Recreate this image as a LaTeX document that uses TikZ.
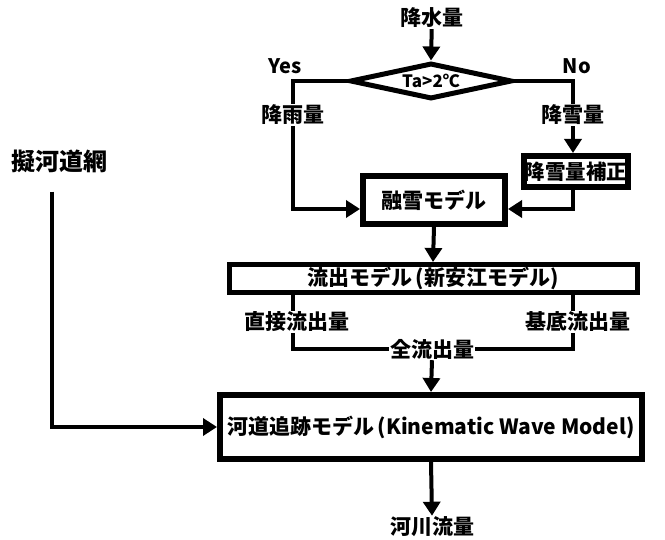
\documentclass[tikz,border=0pt]{standalone}
\usepackage{fontspec}
\setmainfont{Noto Sans CJK JP}
\usetikzlibrary{shapes.geometric,arrows.meta}
\begin{document}
\begin{tikzpicture}[x=1pt,y=-1pt,
  lbl/.style={font=\bfseries\fontsize{21}{21}\selectfont, inner sep=1pt},
  box/.style={draw, line width=6pt, fill=white, inner sep=0pt, font=\bfseries\fontsize{21}{21}\selectfont},
  conn/.style={line width=4pt},
  arr/.style={line width=4pt, -{Triangle[length=14pt,width=17pt]}}]
\useasboundingbox (0,0) rectangle (665,540);
% nodes
\node[lbl] (prec) at (432,18) {降水量};
\node[draw, diamond, line width=5pt, minimum width=162pt, minimum height=36pt, inner sep=0pt, aspect=4,
      font=\bfseries\fontsize{17}{17}\selectfont] (cond) at (431,81) {Ta>2℃};
\node[lbl, font=\bfseries\fontsize{20}{20}\selectfont] (yes) at (285,66) {Yes};
\node[lbl, font=\bfseries\fontsize{20}{20}\selectfont] (no) at (577,66) {No};
\node[lbl] (rain) at (293,115) {降雨量};
\node[lbl] (snow) at (573,115) {降雪量};
\node[box, minimum width=104pt, minimum height=31pt, font=\bfseries\fontsize{20.5}{20.5}\selectfont] (corr) at (576,171.5) {降雪量補正};
\node[box, minimum width=142pt, minimum height=48pt] (melt) at (434,200) {融雪モデル};
\node[box, line width=5pt, minimum width=408pt, minimum height=28pt] (flow) at (433,278.5) {流出モデル\,(新安江モデル)};
\node[lbl] (direct) at (297,322) {直接流出量};
\node[lbl] (base) at (578,322) {基底流出量};
\node[lbl] (total) at (432,349) {全流出量};
\node[box, minimum width=422pt, minimum height=64pt] (route) at (431,427) {河道追跡モデル\,(Kinematic Wave Model)};
\node[lbl] (river) at (432,527) {河川流量};
\node[lbl, font=\bfseries\fontsize{24}{24}\selectfont] (net) at (60,161) {擬河道網};
% connectors
\draw[arr] (prec) -- (cond.north);
\draw[conn] (cond.west) -| (rain.north);
\draw[conn] (cond.east) -| (snow.north);
\draw[arr] (rain.south) |- ([yshift=-9pt]melt.west);
\draw[arr] (snow.south) -- (snow.south |- corr.north);
\draw[arr] (corr.south -| snow.south) |- ([yshift=-9pt]melt.east);
\draw[arr] (melt.south) -- (flow.north);
\draw[conn] (flow.south -| rain.south) -- (direct.north -| rain.south);
\draw[conn] (flow.south -| snow.south) -- (base.north -| snow.south);
\draw[conn] (direct.south -| rain.south) |- (total.west);
\draw[conn] (base.south -| snow.south) |- (total.east);
\draw[arr] (total.south) -- (route.north);
\draw[arr] (route.south) -- (river.north);
\draw[arr] ([xshift=-8pt,yshift=-18pt]net.south) |- (route.west);
\end{tikzpicture}
\end{document}
